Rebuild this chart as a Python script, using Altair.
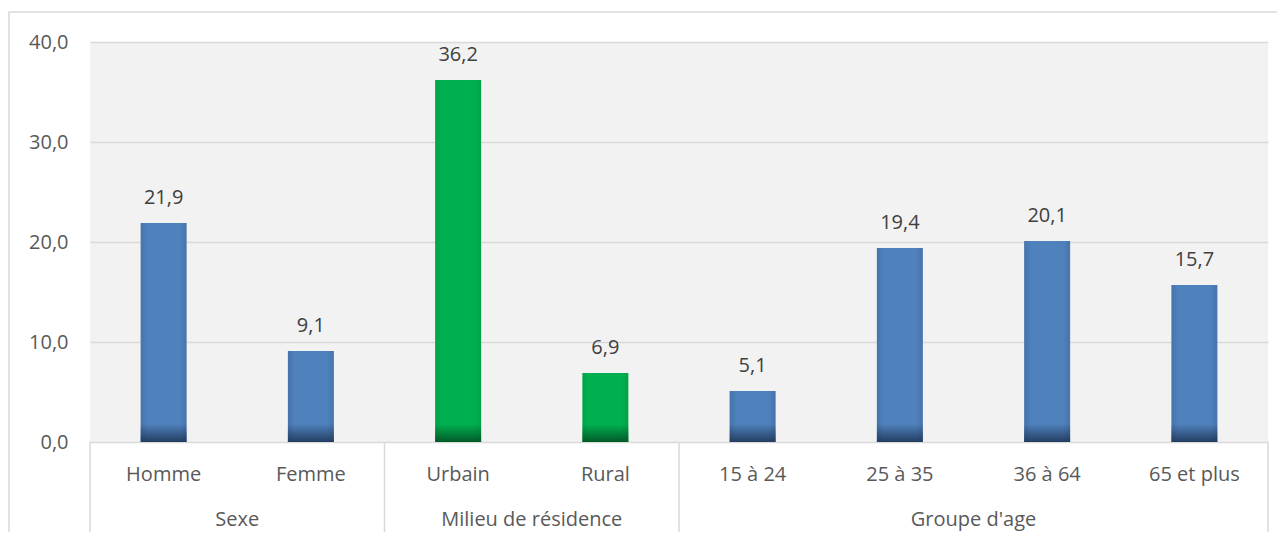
import altair as alt
import pandas as pd

categories = ["Homme", "Femme", "Urbain", "Rural", "15 à 24", "25 à 35", "36 à 64", "65 et plus"]
values = [21.9, 9.1, 36.2, 6.9, 5.1, 19.4, 20.1, 15.7]
groups = ["Sexe", "Sexe", "Milieu de résidence", "Milieu de résidence",
          "Groupe d'age", "Groupe d'age", "Groupe d'age", "Groupe d'age"]
palette = ["blue", "blue", "green", "green", "blue", "blue", "blue", "blue"]
y_ticks = [0, 10, 20, 30, 40]

FONT = "Open Sans"
GRID = "#d9d9d9"
TXT = "#595959"

df = pd.DataFrame({
    "cat": categories,
    "val": values,
    "grp": groups,
    "col": palette,
})
df["pos"] = [i + 0.5 for i in range(len(df))]
df["lab"] = [f"{v:.1f}".replace(".", ",") for v in df["val"]]
df["shade"] = [min(v, 1.8) for v in df["val"]]

# group centres and boundaries
order = list(dict.fromkeys(groups))
gdf = df.groupby("grp", sort=False).agg(center=("pos", "mean"), n=("pos", "size")).reindex(order).reset_index()
bounds = [0]
for n in gdf["n"]:
    bounds.append(bounds[-1] + n)
bdf = pd.DataFrame({"b": bounds})

xs = alt.Scale(domain=[0, len(categories)], nice=False, zero=False, padding=0)
ys = alt.Scale(domain=[0, 40], nice=False, padding=0)

base = alt.Chart(df)


def grad_h(edge, mid):
    return alt.Gradient(
        gradient="linear", x1=0, x2=1, y1=0, y2=0,
        stops=[alt.GradientStop(color=edge, offset=0),
               alt.GradientStop(color=mid, offset=0.15),
               alt.GradientStop(color=mid, offset=0.85),
               alt.GradientStop(color=edge, offset=1)])


def grad_v(rgb):
    return alt.Gradient(
        gradient="linear", x1=0, x2=0, y1=0, y2=1,
        stops=[alt.GradientStop(color=f"rgba({rgb},0)", offset=0),
               alt.GradientStop(color=f"rgba({rgb},0.8)", offset=1)])


xenc = alt.X("pos:Q", scale=xs, axis=None)

bars_blue = base.transform_filter(alt.datum.col == "blue").mark_bar(
    orient="vertical", size=46, color=grad_h("#4673ab", "#4f81bd")
).encode(
    x=xenc,
    y=alt.Y("val:Q", scale=ys, axis=alt.Axis(
        values=y_ticks, grid=True, gridColor=GRID, gridWidth=1.3, domain=False, ticks=False,
        labelExpr="replace(format(datum.value, '.1f'), '.', ',')",
        labelPadding=22, labelFontSize=20, labelColor=TXT, labelFont=FONT, title=None)),
)
bars_green = base.transform_filter(alt.datum.col == "green").mark_bar(
    orient="vertical", size=46, color=grad_h("#00a349", "#00b050")
).encode(x=xenc, y=alt.Y("val:Q", scale=ys))

shade_blue = base.transform_filter(alt.datum.col == "blue").mark_bar(
    orient="vertical", size=46, color=grad_v("25,45,75")
).encode(x=xenc, y=alt.Y("shade:Q", scale=ys))
shade_green = base.transform_filter(alt.datum.col == "green").mark_bar(
    orient="vertical", size=46, color=grad_v("0,70,30")
).encode(x=xenc, y=alt.Y("shade:Q", scale=ys))

labels = base.mark_text(font=FONT, fontSize=20, color="#404040", dy=-25, baseline="middle").encode(
    x=xenc, y=alt.Y("val:Q", scale=ys), text="lab:N")

cat_labels = base.mark_text(font=FONT, fontSize=20, color=TXT, baseline="middle").encode(
    x=xenc, y=alt.value(433), text="cat:N")

grp_labels = alt.Chart(gdf).mark_text(font=FONT, fontSize=20, color=TXT, baseline="middle").encode(
    x=alt.X("center:Q", scale=xs), y=alt.value(478), text="grp:N")

seps = alt.Chart(bdf).mark_rule(color=GRID, strokeWidth=1.5).encode(
    x=alt.X("b:Q", scale=xs), y=alt.value(400), y2=alt.value(495))

border = alt.Chart(bdf.head(1)).mark_rect(fillOpacity=0, stroke=GRID, strokeWidth=1.5).encode(
    x=alt.value(-81), x2=alt.value(1400), y=alt.value(-30), y2=alt.value(700))

chart = alt.layer(
    bars_blue, bars_green, shade_blue, shade_green, labels,
    cat_labels, grp_labels, seps, border
).properties(
    width=1178, height=400,
    padding={"left": 82, "top": 34, "right": 9, "bottom": 90},
    autosize=alt.AutoSizeParams(type="none"),
    background="white",
).configure_view(fill="#f2f2f2", stroke=None)

chart.save("out.html", embed_options={"renderer": "svg", "actions": False})
